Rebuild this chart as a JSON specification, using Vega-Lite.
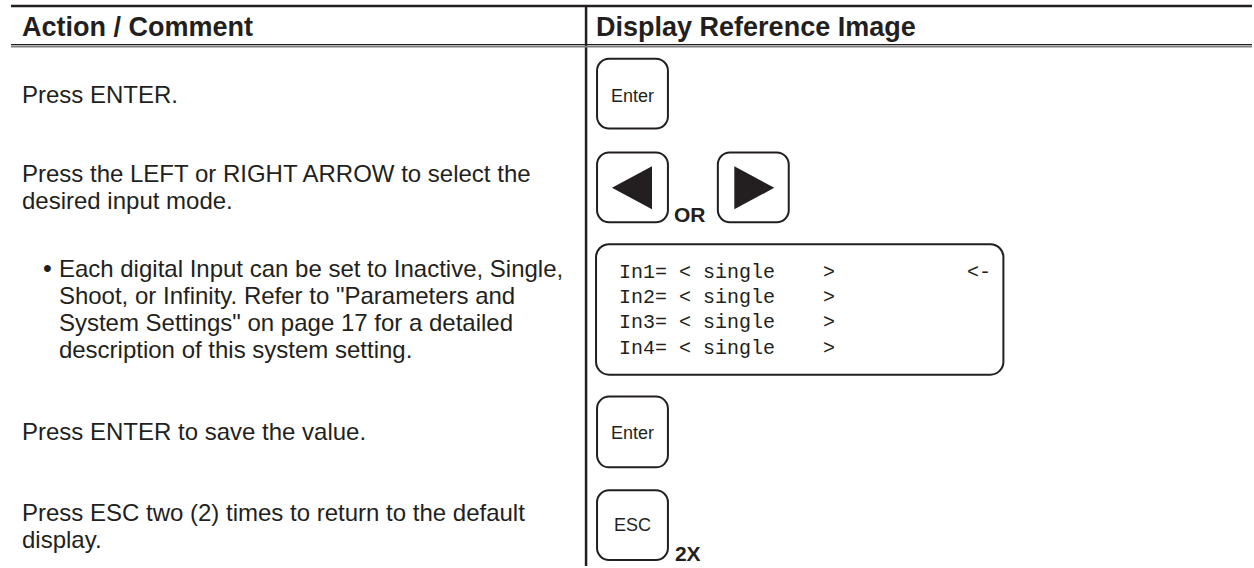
{
  "$schema": "https://vega.github.io/schema/vega-lite/v6.json",
  "width": 1254,
  "height": 568,
  "padding": 0,
  "autosize": {"type": "fit", "contains": "padding"},
  "background": "#ffffff",
  "config": {"view": {"stroke": null}},
  "encoding": {
    "x": {"field": "x", "type": "quantitative", "scale": {"domain": [0, 1254], "nice": false, "zero": false}, "axis": null},
    "y": {"field": "y", "type": "quantitative", "scale": {"domain": [0, 568], "nice": false, "zero": false, "reverse": true}, "axis": null}
  },
  "layer": [
    {
      "data": {"values": [
        {"x": 11, "x2": 1254, "y": 6, "y2": 6},
        {"x": 587, "x2": 587, "y": 6, "y2": 568}
      ]},
      "mark": {"type": "rule", "stroke": "#231f20", "strokeWidth": 2.5},
      "encoding": {"x2": {"field": "x2"}, "y2": {"field": "y2"}}
    },
    {
      "data": {"values": [{"x": 11, "x2": 1254, "y": 44.8, "y2": 44.8}]},
      "mark": {"type": "rule", "stroke": "#231f20", "strokeWidth": 1.4},
      "encoding": {"x2": {"field": "x2"}, "y2": {"field": "y2"}}
    },
    {
      "data": {"values": [{"x": 11, "x2": 1254, "y": 46.8, "y2": 46.8}]},
      "mark": {"type": "rule", "stroke": "#808080", "strokeWidth": 1.6},
      "encoding": {"x2": {"field": "x2"}, "y2": {"field": "y2"}}
    },
    {
      "data": {"values": [
        {"key": "enter1", "x": 598, "x2": 669, "y": 59, "y2": 129},
        {"key": "left", "x": 598, "x2": 669, "y": 153, "y2": 223},
        {"key": "right", "x": 719, "x2": 790, "y": 153, "y2": 223},
        {"key": "enter2", "x": 598, "x2": 669, "y": 398, "y2": 469},
        {"key": "esc", "x": 598, "x2": 669, "y": 492, "y2": 562}
      ]},
      "mark": {"type": "rect", "fill": "#ffffff", "stroke": "#231f20", "strokeWidth": 2, "cornerRadius": 12},
      "encoding": {"x2": {"field": "x2"}, "y2": {"field": "y2"}}
    },
    {
      "data": {"values": [
        {"key": "lcd", "x": 597, "x2": 1005, "y": 245, "y2": 376}
      ]},
      "mark": {"type": "rect", "fill": "#ffffff", "stroke": "#231f20", "strokeWidth": 2, "cornerRadius": 13},
      "encoding": {"x2": {"field": "x2"}, "y2": {"field": "y2"}}
    },
    {
      "data": {"values": [
        {"dir": "left", "x": 633, "y": 188.5},
        {"dir": "right", "x": 755.5, "y": 188.5}
      ]},
      "mark": {"type": "point", "filled": true, "opacity": 1, "fill": "#231f20", "strokeWidth": 0},
      "encoding": {
        "shape": {"field": "dir", "type": "nominal", "scale": {"domain": ["left", "right"], "range": ["M0.93,-1L0.93,1L-0.93,0Z", "M-0.93,-1L-0.93,1L0.93,0Z"]}, "legend": null},
        "size": {"value": 1849}
      }
    },
    {
      "data": {"values": [
        {"x": 22, "y": 36, "text": "Action / Comment"},
        {"x": 597, "y": 36, "text": "Display Reference Image"}
      ]},
      "mark": {"type": "text", "align": "left", "baseline": "alphabetic", "font": "Liberation Sans", "fontWeight": "bold", "fontSize": 27, "fill": "#231f20"},
      "encoding": {"text": {"field": "text"}}
    },
    {
      "data": {"values": [
        {"x": 22, "y": 103, "text": "Press ENTER."},
        {"x": 22, "y": 183, "text": "Press the LEFT or RIGHT ARROW to select the"},
        {"x": 22, "y": 210, "text": "desired input mode."},
        {"x": 59, "y": 278, "text": "Each digital Input can be set to Inactive, Single,"},
        {"x": 59, "y": 305, "text": "Shoot, or Infinity. Refer to \"Parameters and"},
        {"x": 59, "y": 332, "text": "System Settings\" on page 17 for a detailed"},
        {"x": 59, "y": 359, "text": "description of this system setting."},
        {"x": 22, "y": 442, "text": "Press ENTER to save the value."},
        {"x": 22, "y": 523, "text": "Press ESC two (2) times to return to the default"},
        {"x": 22, "y": 550, "text": "display."}
      ]},
      "mark": {"type": "text", "align": "left", "baseline": "alphabetic", "font": "Liberation Sans", "fontSize": 24, "fill": "#231f20"},
      "encoding": {"text": {"field": "text"}}
    },
    {
      "data": {"values": [{"x": 43, "y": 278, "text": "•"}]},
      "mark": {"type": "text", "align": "left", "baseline": "alphabetic", "font": "Liberation Sans", "fontSize": 25, "fill": "#231f20"},
      "encoding": {"text": {"field": "text"}}
    },
    {
      "data": {"values": [
        {"x": 633.5, "y": 102, "text": "Enter"},
        {"x": 633.5, "y": 441, "text": "Enter"},
        {"x": 633.5, "y": 533, "text": "ESC"}
      ]},
      "mark": {"type": "text", "align": "center", "baseline": "alphabetic", "font": "Liberation Sans", "fontSize": 18, "fill": "#231f20"},
      "encoding": {"text": {"field": "text"}}
    },
    {
      "data": {"values": [
        {"x": 675, "y": 223, "text": "OR"},
        {"x": 676, "y": 563, "text": "2X"}
      ]},
      "mark": {"type": "text", "align": "left", "baseline": "alphabetic", "font": "Liberation Sans", "fontWeight": "bold", "fontSize": 21, "fill": "#231f20"},
      "encoding": {"text": {"field": "text"}}
    },
    {
      "data": {"values": [
        {"x": 620, "y": 278.5, "text": "In1=\u00a0<\u00a0single\u00a0\u00a0\u00a0\u00a0>\u00a0\u00a0\u00a0\u00a0\u00a0\u00a0\u00a0\u00a0\u00a0\u00a0\u00a0<-"},
        {"x": 620, "y": 304, "text": "In2=\u00a0<\u00a0single\u00a0\u00a0\u00a0\u00a0>"},
        {"x": 620, "y": 329.5, "text": "In3=\u00a0<\u00a0single\u00a0\u00a0\u00a0\u00a0>"},
        {"x": 620, "y": 355, "text": "In4=\u00a0<\u00a0single\u00a0\u00a0\u00a0\u00a0>"}
      ]},
      "mark": {"type": "text", "align": "left", "baseline": "alphabetic", "font": "Liberation Mono", "fontSize": 20, "fill": "#231f20"},
      "encoding": {"text": {"field": "text"}}
    }
  ]
}
